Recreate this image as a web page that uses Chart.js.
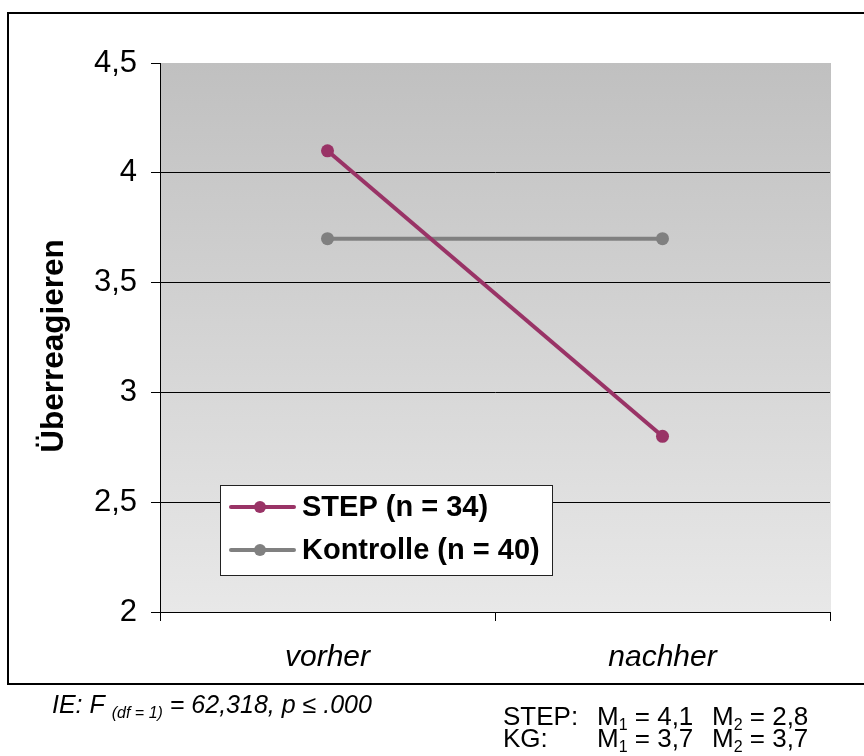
<!DOCTYPE html>
<html>
<head>
<meta charset="utf-8">
<script src="https://cdn.jsdelivr.net/npm/chart.js@4"></script>
<style>
  body { margin: 0; background: #fff; }
  #wrap { width: 864px; height: 756px; }
</style>
</head>
<body>
<div id="wrap"><canvas id="chart" width="864" height="756"></canvas></div>
<script>
const categories = ['vorher', 'nachher'];
const stepValues = [4.1, 2.8];
const kontrolleValues = [3.7, 3.7];
const seriesLabels = ['STEP (n = 34)', 'Kontrolle (n = 40)'];
const seriesColors = ['#993366', '#808080'];
const yTicks = [2, 2.5, 3, 3.5, 4, 4.5];
const yTitle = 'Überreagieren';

const FONT = "'Liberation Sans', Arial, sans-serif";

// hintergrund mit verlauf
const background = {
    id: 'background',
    beforeDraw(chart) {
        const { ctx, chartArea: a } = chart;
        const g = ctx.createLinearGradient(0, a.top, 0, a.bottom);
        g.addColorStop(0, '#c0c0c0');
        g.addColorStop(1, '#e8e8e8');
        ctx.save();
        ctx.fillStyle = g;
        ctx.fillRect(a.left, a.top, a.right - a.left + 1, a.bottom - a.top);
        ctx.restore();
    }
};

function subText(ctx, parts, x, y, size, italic) {
    // parts: [text, isSub]
    const style = italic ? 'italic ' : '';
    parts.forEach(p => {
        if (p[1]) {
            ctx.font = style + Math.round(size * 0.62) + 'px ' + FONT;
            ctx.fillText(p[0], x, y + size * 0.2);
        } else {
            ctx.font = style + size + 'px ' + FONT;
            ctx.fillText(p[0], x, y);
        }
        x += ctx.measureText(p[0]).width;
    });
    return x;
}

const extras = {
    id: 'extras',
    afterDraw(chart) {
        const ctx = chart.ctx;
        ctx.save();

        // rahmen
        ctx.strokeStyle = '#000';
        ctx.lineWidth = 2;
        ctx.strokeRect(8, 13, 870, 671);

        // y-titel
        ctx.fillStyle = '#000';
        ctx.font = 'bold 31.5px ' + FONT;
        ctx.translate(63, 346);
        ctx.rotate(-Math.PI / 2);
        ctx.textAlign = 'center';
        ctx.textBaseline = 'alphabetic';
        ctx.fillText(yTitle, 0, 0);
        ctx.setTransform(1, 0, 0, 1, 0, 0);

        // legende
        ctx.fillStyle = '#fff';
        ctx.fillRect(220, 485, 332, 90);
        ctx.strokeStyle = '#222';
        ctx.lineWidth = 1;
        ctx.strokeRect(220.5, 485.5, 332, 90);
        const rows = [507, 550];
        chart.data.datasets.forEach((ds, i) => {
            const y = rows[i];
            ctx.strokeStyle = ds.borderColor;
            ctx.lineWidth = 4;
            ctx.lineCap = 'round';
            ctx.beginPath();
            ctx.moveTo(231, y);
            ctx.lineTo(294, y);
            ctx.stroke();
            ctx.fillStyle = ds.borderColor;
            ctx.beginPath();
            ctx.arc(260, y, 6, 0, Math.PI * 2);
            ctx.fill();
            ctx.fillStyle = '#000';
            ctx.font = 'bold 29px ' + FONT;
            ctx.textAlign = 'left';
            ctx.textBaseline = 'middle';
            ctx.fillText(ds.label, 302, y + 1);
        });

        // texte unten
        ctx.fillStyle = '#000';
        ctx.textAlign = 'left';
        ctx.textBaseline = 'alphabetic';
        subText(ctx, [['IE: F ', false], ['(df = 1)', true], [' = 62,318, p ≤ .000', false]], 52, 713, 25, true);

        ctx.font = '26px ' + FONT;
        ctx.fillText('STEP:', 503, 725);
        ctx.fillText('KG:', 503, 747);
        const means = [[stepValues[0], stepValues[1]], [kontrolleValues[0], kontrolleValues[1]]];
        const fmt = v => v.toFixed(1).replace('.', ',');
        [725, 747].forEach((y, i) => {
            subText(ctx, [['M', false], ['1', true], [' = ' + fmt(means[i][0]), false]], 597, y, 26, false);
            subText(ctx, [['M', false], ['2', true], [' = ' + fmt(means[i][1]), false]], 712, y, 26, false);
        });

        ctx.restore();
    }
};

new Chart(document.getElementById('chart'), {
    type: 'line',
    data: {
        labels: categories,
        datasets: [
            {
                label: seriesLabels[0],
                data: stepValues,
                borderColor: seriesColors[0],
                backgroundColor: seriesColors[0],
                borderWidth: 4,
                pointRadius: 6.5,
                pointBorderWidth: 0,
                pointBackgroundColor: seriesColors[0],
                tension: 0
            },
            {
                label: seriesLabels[1],
                data: kontrolleValues,
                borderColor: seriesColors[1],
                backgroundColor: seriesColors[1],
                borderWidth: 4,
                pointRadius: 6.5,
                pointBorderWidth: 0,
                pointBackgroundColor: seriesColors[1],
                tension: 0
            }
        ]
    },
    options: {
        responsive: false,
        animation: false,
        layout: { padding: { left: 0, right: 34, top: 63, bottom: 0 } },
        plugins: {
            legend: { display: false },
            tooltip: { enabled: false }
        },
        scales: {
            x: {
                offset: true,
                afterFit: s => { s.height = 144; },
                border: { display: true, color: '#000', width: 1 },
                grid: { offset: true, drawOnChartArea: false, color: '#000', tickLength: 9 },
                ticks: {
                    color: '#000',
                    padding: 19,
                    font: { family: FONT, size: 30, style: 'italic' }
                }
            },
            y: {
                min: yTicks[0],
                max: yTicks[yTicks.length - 1],
                afterFit: s => { s.width = 160; },
                afterBuildTicks: s => { s.ticks = yTicks.map(v => ({ value: v })); },
                border: { display: true, color: '#000', width: 1 },
                grid: {
                    color: c => (c.tick && c.tick.value === yTicks[yTicks.length - 1]) ? 'rgba(0,0,0,0)' : '#000',
                    tickColor: '#000',
                    tickLength: 9
                },
                ticks: {
                    color: '#000',
                    padding: 14,
                    font: { family: FONT, size: 31 },
                    callback: v => String(v).replace('.', ',')
                }
            }
        }
    },
    plugins: [background, extras]
});
</script>
</body>
</html>
